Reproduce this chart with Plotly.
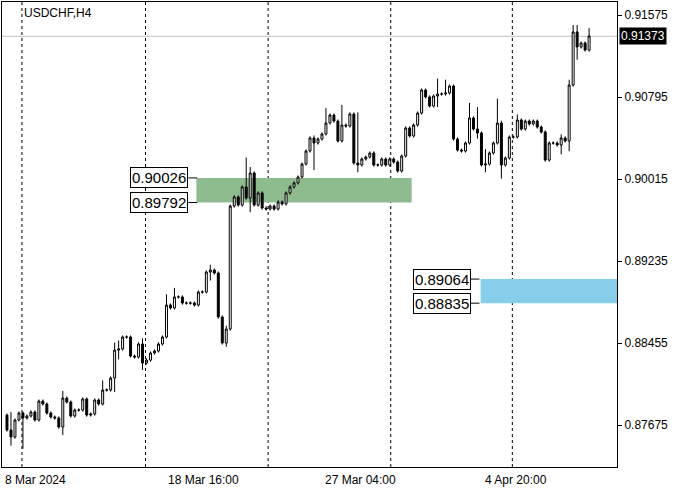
import plotly.graph_objects as go

close = [0.87629,0.87562,0.87724,0.87790,0.87743,0.87762,0.87800,0.87724,0.87904,0.87876,
0.87790,0.87752,0.87743,0.87657,0.87933,0.87895,0.87762,0.87819,0.87819,0.87924,
0.87771,0.87781,0.87914,0.87876,0.88009,0.88009,0.88123,0.88389,0.88399,0.88513,
0.88513,0.88332,0.88323,0.88447,0.88266,0.88294,0.88361,0.88380,0.88447,0.88513,
0.88817,0.88789,0.88894,0.88894,0.88836,0.88836,0.88836,0.88817,0.88941,0.88941,
0.89131,0.89150,0.89122,0.88703,0.88456,0.88589,0.89759,
0.89845,0.89768,0.89940,0.89835,0.90073,0.89768,0.89883,0.89740,0.89730,0.89759,
0.89730,0.89797,0.89778,0.89883,0.89940,0.89978,0.90035,0.90158,0.90282,0.90406,
0.90358,0.90396,0.90444,0.90548,0.90624,0.90567,0.90377,0.90529,0.90520,0.90634,
0.90168,0.90149,0.90206,0.90225,0.90263,0.90149,0.90149,0.90206,0.90149,0.90206,
0.90177,0.90092,0.90234,
0.90501,0.90425,0.90529,0.90643,0.90862,0.90796,0.90710,0.90805,0.90824,0.90824,
0.90834,0.90900,0.90396,0.90291,0.90282,0.90358,0.90596,0.90491,0.90453,0.90149,
0.90158,0.90263,0.90358,0.90548,0.90149,0.90215,0.90415,0.90415,0.90577,0.90491,
0.90567,0.90539,0.90567,0.90510,0.90463,0.90196,0.90358,0.90358,0.90339,0.90406,
0.90377,0.90910,0.91414,0.91271,0.91309,0.91242,0.91376]
first_open = 0.87771
# notable wick extremes (index: (high, low))
wicks = {4:(0.87790,0.87450), 1:(0.87800,0.87480), 14:(0.88000,0.87580), 24:(0.88100,0.87900),
         27:(0.88460,0.87990), 28:(0.88480,0.88300), 34:(0.88500,0.88200), 40:(0.88920,0.88700),
         42:(0.88980,0.88800), 51:(0.89200,0.89050), 55:(0.88620,0.88420), 60:(0.90220,0.89900),
         61:(0.90130,0.89700), 77:(0.90430,0.90100), 80:(0.90690,0.90440), 84:(0.90720,0.90400),
         88:(0.90650,0.90080), 108:(0.90970,0.90700), 110:(0.90960,0.90810), 116:(0.90740,0.90400),
         118:(0.90700,0.90400), 120:(0.90300,0.90080), 123:(0.90780,0.90400), 124:(0.90570,0.90020),
         128:(0.90630,0.90400), 139:(0.90440,0.90250), 141:(0.90960,0.90280), 142:(0.91480,0.90910),
         143:(0.91480,0.91150), 146:(0.91450,0.91230)}
tick_vals = [0.91575,0.90795,0.90015,0.89235,0.88455,0.87675]
date_labels = ["8 Mar 2024","18 Mar 16:00","27 Mar 04:00","4 Apr 20:00"]
date_pos = [-1.0, 40.0, 79.3, 119.3]
grid_pos = [3.75, 34.75, 65.5, 96.25, 126.75]
last_price = 0.91373
green_zone = (0.90026, 0.89792)
blue_zone = (0.89064, 0.88835)

opens = [first_open] + close[:-1]
x = list(range(len(close)))
highs, lows = [], []
for i in x:
    hi = max(opens[i], close[i]) + 0.00015
    lo = min(opens[i], close[i]) - 0.00015
    if i in wicks:
        hi, lo = max(hi, wicks[i][0]), min(lo, wicks[i][1])
    highs.append(hi); lows.append(lo)

fig = go.Figure()
fig.add_trace(go.Candlestick(x=x, open=opens, high=highs, low=lows, close=close,
    increasing=dict(line=dict(color="black", width=1), fillcolor="white"),
    decreasing=dict(line=dict(color="black", width=1), fillcolor="black"),
    whiskerwidth=0, showlegend=False, hoverinfo="skip"))

shapes = []
for g in grid_pos:
    shapes.append(dict(type="line", x0=g, x1=g, y0=0, y1=1, yref="paper", layer="below",
                       line=dict(color="black", width=1, dash="3px,3px")))
shapes.append(dict(type="line", x0=0, x1=1, xref="paper", y0=last_price, y1=last_price,
                   layer="below", line=dict(color="#c0c0c0", width=1)))
shapes.append(dict(type="rect", x0=47.5, x1=101.5, y0=green_zone[1], y1=green_zone[0],
                   fillcolor="#8fbc8f", line=dict(width=0), layer="below"))
shapes.append(dict(type="rect", x0=118.8, x1=160, y0=blue_zone[1], y1=blue_zone[0],
                   fillcolor="#87ceeb", line=dict(width=0), layer="below"))
fig.update_layout(shapes=shapes)

ann = []
def label(xi, y, txt):
    ann.append(dict(x=xi, y=y, text=txt, showarrow=False, xanchor="right", yanchor="middle",
                    font=dict(family="Liberation Sans", size=15, color="black"),
                    bgcolor="white", bordercolor="black", borderwidth=1, borderpad=1))
label(45.5, green_zone[0], "0.90026")
label(45.5, green_zone[1], "0.89792")
label(116.3, blue_zone[0], "0.89064")
label(116.3, blue_zone[1], "0.88835")
for (xa, yv) in [(45.5, green_zone[0]), (45.5, green_zone[1]), (116.3, blue_zone[0]), (116.3, blue_zone[1])]:
    fig.add_shape(type="line", x0=xa, x1=xa + 2.2, y0=yv, y1=yv, line=dict(color="black", width=1))
for lbl, p in zip(date_labels, date_pos):
    ann.append(dict(x=p, y=0, yref="paper", yshift=-4, text=lbl, showarrow=False,
                    xanchor="left", yanchor="top",
                    font=dict(family="Liberation Sans", size=12, color="black")))
ann.append(dict(x=1, xref="paper", y=last_price, text="0.91373", showarrow=False,
                xanchor="left", yanchor="middle", xshift=2,
                font=dict(family="Liberation Sans", size=12, color="white"),
                bgcolor="black", borderpad=1))
ann.append(dict(x=0, xref="paper", y=1, yref="paper", text="USDCHF,H4", showarrow=False,
                xanchor="left", yanchor="top", xshift=20, yshift=-2,
                font=dict(family="Liberation Sans", size=12, color="black")))
fig.update_layout(annotations=ann)

fig.update_layout(width=700, height=500, paper_bgcolor="white", plot_bgcolor="white",
    margin=dict(l=2, r=83, t=2, b=33),
    xaxis=dict(range=[-1.25, 153], showgrid=False, zeroline=False, showticklabels=False,
               rangeslider=dict(visible=False), showline=True, linecolor="black", mirror=True,
               fixedrange=True),
    yaxis=dict(range=[0.87277, 0.91699], side="right", tickvals=tick_vals,
               ticktext=[f"{v:.5f}" for v in tick_vals], showgrid=False, zeroline=False,
               ticks="outside", ticklen=4, tickcolor="black", showline=True, linecolor="black",
               mirror=True, tickfont=dict(family="Liberation Sans", size=12, color="black")))
fig.write_html("out.html", config={"displayModeBar": False},
               post_script="document.body.style.margin='0';")
